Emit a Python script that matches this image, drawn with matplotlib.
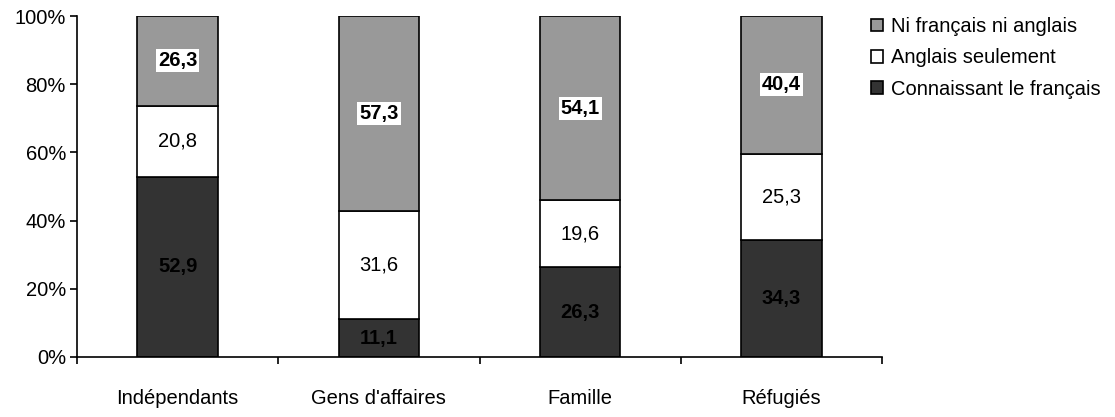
import matplotlib
matplotlib.use("Agg")
import matplotlib.pyplot as plt
import numpy as np

plt.rcParams['font.family'] = ['Liberation Sans', 'DejaVu Sans']

categories = ["Indépendants", "Gens d'affaires", "Famille", "Réfugiés"]
francais = [52.9, 11.1, 26.3, 34.3]
anglais = [20.8, 31.6, 19.6, 25.3]
ni = [26.3, 57.3, 54.1, 40.4]
series_names = ["Connaissant le français", "Anglais seulement", "Ni français ni anglais"]

FS = 14.5
LFS = 14.5

fig = plt.figure(figsize=(11.15, 4.17), dpi=100)
ax = fig.add_axes([77/1115, 1-357/417, (882-77)/1115, (357-16)/417])

x = np.arange(len(categories))
w = 0.4
b1 = ax.bar(x, francais, w, color="#333333", edgecolor="black", linewidth=1.2, label=series_names[0])
b2 = ax.bar(x, anglais, w, bottom=francais, color="white", edgecolor="black", linewidth=1.2, label=series_names[1])
bottom3 = np.array(francais) + np.array(anglais)
b3 = ax.bar(x, ni, w, bottom=bottom3, color="#999999", edgecolor="black", linewidth=1.2, label=series_names[2])

def fmt(v):
    return f"{v:.1f}".replace(".", ",")

for i in range(len(categories)):
    ax.text(x[i], francais[i]/2, fmt(francais[i]), ha="center", va="center",
            fontsize=LFS, fontweight="bold", color="black")
    ax.text(x[i], francais[i] + anglais[i]/2, fmt(anglais[i]), ha="center", va="center",
            fontsize=LFS, color="black")
    ax.text(x[i], bottom3[i] + ni[i]/2, fmt(ni[i]), ha="center", va="center",
            fontsize=LFS, fontweight="bold", color="black",
            bbox=dict(facecolor="white", edgecolor="none", pad=1.5))

ax.set_xlim(-0.5, len(categories)-0.5)
ax.set_ylim(0, 100)
ax.set_yticks([0, 20, 40, 60, 80, 100])
ax.set_yticklabels(["0%", "20%", "40%", "60%", "80%", "100%"], fontsize=FS)
ax.set_xticks(np.arange(len(categories)+1) - 0.5)
ax.set_xticklabels([])
ax.set_xticks(x, minor=True)
ax.set_xticklabels(categories, minor=True, fontsize=FS)
ax.tick_params(axis="x", which="minor", length=0, pad=23)
ax.tick_params(axis="x", which="major", length=5, direction="out")
ax.tick_params(axis="y", length=5, direction="out", pad=3)
ax.spines["top"].set_visible(False)
ax.spines["right"].set_visible(False)
for s in ["left", "bottom"]:
    ax.spines[s].set_linewidth(1.2)
ax.tick_params(width=1.2)

handles = [b3, b2, b1]
leg = fig.legend(handles, [series_names[2], series_names[1], series_names[0]],
                 loc="upper left", bbox_to_anchor=(871/1115, 1-17/417), frameon=False,
                 fontsize=FS, handlelength=0.6, handleheight=0.6, handletextpad=0.4,
                 labelspacing=0.62, borderpad=0, borderaxespad=0)

fig.savefig("out.png", dpi=100)
